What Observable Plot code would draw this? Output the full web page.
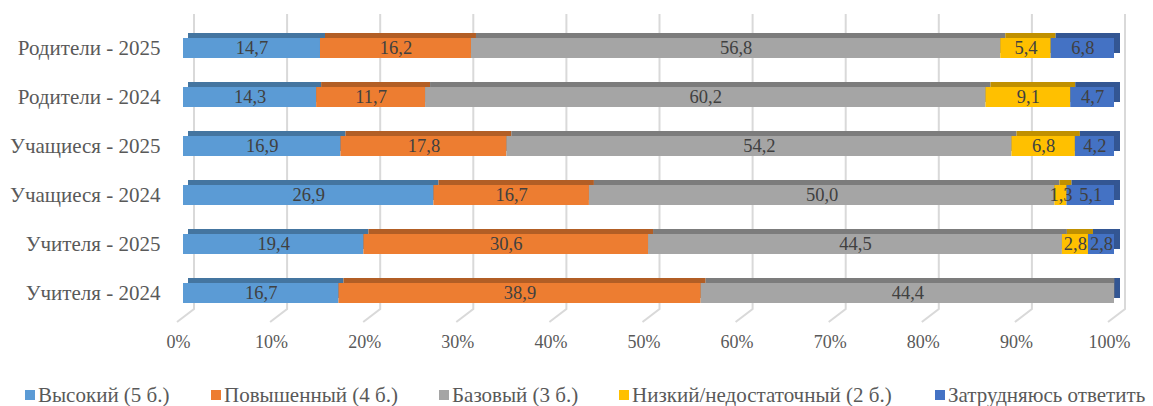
<!DOCTYPE html>
<html>
<head>
<meta charset="utf-8">
<script src="https://cdn.jsdelivr.net/npm/d3@7"></script>
<script src="https://cdn.jsdelivr.net/npm/@observablehq/plot@0.6"></script>
<style>
  body { margin: 0; background: #fff; position: relative; width: 1153px; height: 406px; overflow: hidden; font-family: "Liberation Serif", "Times New Roman", serif; }
  #chart svg { display: block; }
  .lg { position: absolute; top: 382px; font-size: 21px; line-height: 26px; color: #595959; white-space: nowrap; }
  .lg span.sq { display: inline-block; width: 10px; height: 10px; margin-right: 3px; vertical-align: 2px; }
</style>
</head>
<body>
<div id="chart"></div>
<div id="legend"></div>
<script>
const categories = ["Родители - 2025", "Родители - 2024", "Учащиеся - 2025", "Учащиеся - 2024", "Учителя - 2025", "Учителя - 2024"];
const seriesNames = ["Высокий (5 б.)", "Повышенный (4 б.)", "Базовый (3 б.)", "Низкий/недостаточный (2 б.)", "Затрудняюсь ответить"];
const high   = [14.7, 14.3, 16.9, 26.9, 19.4, 16.7];
const raised = [16.2, 11.7, 17.8, 16.7, 30.6, 38.9];
const basic  = [56.8, 60.2, 54.2, 50.0, 44.5, 44.4];
const low    = [5.4, 9.1, 6.8, 1.3, 2.8, 0];
const unsure = [6.8, 4.7, 4.2, 5.1, 2.8, 0];
const colors = ["#5B9BD5", "#ED7D31", "#A5A5A5", "#FFC000", "#4472C4"];
const xTicks = [0, 0.1, 0.2, 0.3, 0.4, 0.5, 0.6, 0.7, 0.8, 0.9, 1];
const legendLeft = [25, 211, 439, 619, 935];

const seriesValues = [high, raised, basic, low, unsure];
const data = [];
categories.forEach((cat, i) => {
  seriesNames.forEach((s, j) => data.push({cat, series: s, value: seriesValues[j][i]}));
});
const darkColors = colors.map(c => d3.color(c).darker(0.8).formatHex());
const colorDomain = [...seriesNames, ...seriesNames.map(s => s + "_d")];
const colorRange = [...colors, ...darkColors];

const W = 1153, H = 370;
const fmt = v => v ? v.toFixed(1).replace(".", ",") : null;

const grid = (index, scales, values, dimensions) => {
  const g = d3.create("svg:g");
  const top = dimensions.marginTop - 9;
  const bottom = dimensions.height - dimensions.marginBottom - 9;
  const floor = dimensions.height - dimensions.marginBottom + 4;
  for (const t of xTicks) {
    const px = scales.x(t);
    g.append("path")
      .attr("d", `M${px + 11},${top}V${bottom}L${px - 6},${floor}`)
      .attr("fill", "none").attr("stroke", "#d9d9d9").attr("stroke-width", 2);
  }
  return g.node();
};

const stackOpts = {offset: "normalize", x: "value", y: "cat", z: "series"};

const chart = Plot.plot({
  width: W,
  height: H,
  marginLeft: 183,
  marginRight: 39,
  marginTop: 23,
  marginBottom: 52,
  style: {fontFamily: "Liberation Serif, Times New Roman, serif", background: "#fff"},
  x: {domain: [0, 1], label: null},
  y: {domain: categories, paddingInner: 0.59, paddingOuter: 0.3, label: null},
  color: {domain: colorDomain, range: colorRange},
  marks: [
    grid,
    Plot.barX(data, Plot.stackX({...stackOpts, fill: d => d.series + "_d", dx: 5, dy: -5})),
    Plot.barX(categories, {x1: () => 0.994, x2: () => 1, y: d => d, fill: () => seriesNames[4] + "_d", dx: 6, dy: -5}),
    Plot.barX(data, Plot.stackX({...stackOpts, fill: "series"})),
    Plot.text(data, Plot.stackX({...stackOpts, text: d => fmt(d.value), fill: "#404040", fontSize: 18.5})),
    Plot.axisY({tickSize: 0, tickPadding: 23, fontSize: 21, color: "#595959", label: null}),
    Plot.axisX(xTicks, {anchor: "bottom", tickSize: 0, tickPadding: 17, dx: -5, fontSize: 18, color: "#595959", tickFormat: d3.format(".0%"), label: null})
  ]
});
document.getElementById("chart").append(chart);

const legend = document.getElementById("legend");
seriesNames.forEach((s, i) => {
  const item = document.createElement("div");
  item.className = "lg";
  item.style.left = legendLeft[i] + "px";
  const sq = document.createElement("span");
  sq.className = "sq";
  sq.style.background = colors[i];
  item.append(sq, document.createTextNode(s));
  legend.append(item);
});
</script>
</body>
</html>
